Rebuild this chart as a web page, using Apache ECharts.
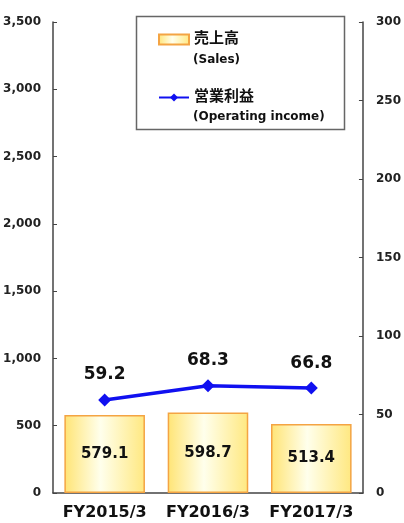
<!DOCTYPE html>
<html><head><meta charset="utf-8">
<script src="https://cdn.jsdelivr.net/npm/echarts@6/dist/echarts.min.js"></script>
<style>html,body{margin:0;padding:0;background:#fff}#c{width:404px;height:523px}</style>
</head><body><div id="c"></div>
<script>
const categories = ['FY2015/3', 'FY2016/3', 'FY2017/3'];
const salesValues = [579.1, 598.7, 513.4];
const operatingIncome = [59.2, 68.3, 66.8];
const salesName = '売上高';
const salesSub = '(Sales)';
const incomeName = '営業利益';
const incomeSub = '(Operating income)';

const FONT = '"DejaVu Sans", "Noto Sans CJK JP", sans-serif';
const barFill = new echarts.graphic.LinearGradient(0, 0, 1, 0, [
  { offset: 0, color: '#FFE475' },
  { offset: 0.45, color: '#FFFFEC' },
  { offset: 1, color: '#FFE880' }
]);

const chart = echarts.init(document.getElementById('c'), null, { renderer: 'canvas' });
chart.setOption({
  animation: false,
  backgroundColor: '#fff',
  textStyle: { fontFamily: FONT },
  grid: { left: 53, right: 35, top: 22, bottom: 30 },
  legend: {
    orient: 'vertical', left: 153, top: 27, itemGap: 43,
    itemWidth: 30, itemHeight: 10,
    textStyle: { fontFamily: FONT, fontSize: 15, fontWeight: 'bold', color: '#111' },
    data: [
      { name: salesName, icon: 'rect' },
      { name: incomeName }
    ]
  },
  graphic: [
    { type: 'rect', left: 134, top: 14, shape: { width: 208, height: 113 },
      style: { fill: 'none', stroke: '#666', lineWidth: 1.5 }, z: 10 },
    { type: 'text', left: 193, top: 54, style: { text: salesSub, font: 'bold 12px ' + FONT, fill: '#111' }, z: 10 },
    { type: 'text', left: 193, top: 111, style: { text: incomeSub, font: 'bold 12px ' + FONT, fill: '#111' }, z: 10 }
  ],
  xAxis: {
    type: 'category', data: categories,
    axisLine: { lineStyle: { color: '#444', width: 1.5 } },
    axisTick: { inside: true, length: 5, lineStyle: { color: '#444' } },
    axisLabel: { interval: 0, fontSize: 16, fontWeight: 'bold', color: '#111', margin: 12, fontFamily: FONT }
  },
  yAxis: [
    {
      type: 'value', min: 0, max: 3500, interval: 500, position: 'left',
      splitLine: { show: false },
      axisLine: { show: true, lineStyle: { color: '#444', width: 1.5 } },
      axisTick: { show: true, inside: true, length: 4, lineStyle: { color: '#444' } },
      axisLabel: { fontSize: 12, fontWeight: 'bold', color: '#222', margin: 12, fontFamily: FONT,
        formatter: v => v.toLocaleString('en-US') }
    },
    {
      type: 'value', min: 0, max: 300, interval: 50, position: 'right',
      splitLine: { show: false },
      axisLine: { show: true, lineStyle: { color: '#444', width: 1.5 } },
      axisTick: { show: true, inside: true, length: 4, lineStyle: { color: '#444' } },
      axisLabel: { fontSize: 12, fontWeight: 'bold', color: '#222', margin: 13, fontFamily: FONT }
    }
  ],
  series: [
    {
      name: salesName, type: 'bar', data: salesValues, barWidth: '78%', yAxisIndex: 0,
      itemStyle: { color: barFill, borderColor: '#F4A443', borderWidth: 1.5 },
      label: { show: true, position: 'inside', fontSize: 15, fontWeight: 'bold', color: '#111', fontFamily: FONT,
        formatter: p => p.value.toFixed(1) }
    },
    {
      name: incomeName, type: 'line', data: operatingIncome, yAxisIndex: 1,
      symbol: 'diamond', symbolSize: 13,
      lineStyle: { color: '#1010F0', width: 3.5 },
      itemStyle: { color: '#1010F0' },
      label: { show: true, position: 'top', distance: 10, fontSize: 17, fontWeight: 'bold', color: '#111', fontFamily: FONT,
        formatter: p => p.value.toFixed(1) }
    }
  ]
});
</script></body></html>
